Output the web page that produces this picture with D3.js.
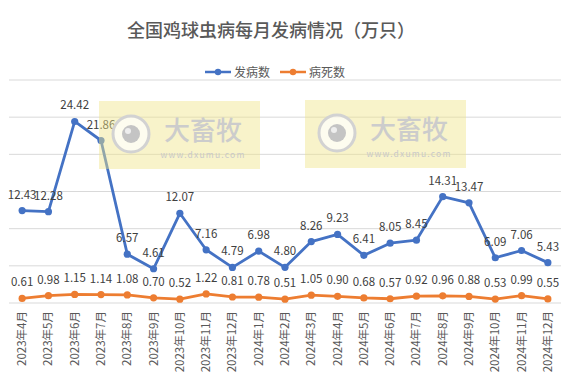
<!DOCTYPE html>
<html><head><meta charset="utf-8">
<script src="https://cdn.jsdelivr.net/npm/d3@7"></script>
<style>
html,body{margin:0;padding:0;background:#fff;}
svg{display:block;font-family:"Noto Sans CJK SC","Noto Sans",sans-serif;}
</style></head>
<body><svg id="c" width="574" height="374"></svg>
<script>
const months = ["2023年4月","2023年5月","2023年6月","2023年7月","2023年8月","2023年9月","2023年10月","2023年11月","2023年12月","2024年1月","2024年2月","2024年3月","2024年4月","2024年5月","2024年6月","2024年7月","2024年8月","2024年9月","2024年10月","2024年11月","2024年12月"];
const incidence = [12.43,12.28,24.42,21.86,6.57,4.61,12.07,7.16,4.79,6.98,4.80,8.26,9.23,6.41,8.05,8.45,14.31,13.47,6.09,7.06,5.43];
const deaths = [0.61,0.98,1.15,1.14,1.08,0.70,0.52,1.22,0.81,0.78,0.51,1.05,0.90,0.68,0.57,0.92,0.96,0.88,0.53,0.99,0.55];
const yTicks = [0,5,10,15,20,25,30];
const seriesNames = ["发病数","病死数"];
const colors = ["#4472c4","#ed7d31"];
const title = "全国鸡球虫病每月发病情况（万只）";

const svg = d3.select("#c");
const x = d3.scaleBand().domain(months).range([9,561]).padding(0);
const cx = m => x(m) + x.bandwidth()/2;
const y = d3.scaleLinear().domain([0,30]).range([303,80]);

// gridlines
svg.append("g").selectAll("line").data(yTicks).join("line")
  .attr("x1",9).attr("x2",561).attr("y1",d=>y(d)).attr("y2",d=>y(d))
  .attr("stroke","#d9d9d9").attr("stroke-width",1);

// title
svg.append("text").attr("x",271).attr("y",37).attr("text-anchor","middle")
  .attr("font-size",18).attr("font-weight",500).attr("fill","#595959").text(title);

// legend
const leg = [{x:205,tx:234},{x:280,tx:309}];
seriesNames.forEach((n,i)=>{
  const g = svg.append("g");
  g.append("line").attr("x1",leg[i].x).attr("x2",leg[i].x+26).attr("y1",72).attr("y2",72)
    .attr("stroke",colors[i]).attr("stroke-width",2.5);
  g.append("circle").attr("cx",leg[i].x+13).attr("cy",72).attr("r",3.2).attr("fill",colors[i]);
  g.append("text").attr("x",leg[i].tx).attr("y",76.5).attr("font-size",12).attr("fill","#595959").text(n);
});

// x labels
svg.append("g").selectAll("text").data(months).join("text")
  .attr("transform",d=>`translate(${cx(d)+4},311) rotate(-90)`)
  .attr("text-anchor","end").attr("font-size",11.5).attr("fill","#595959").text(d=>d);

const series = [incidence, deaths];
const line = d3.line().x((d,i)=>cx(months[i])).y(d=>y(d));
series.forEach((s,k)=>{
  svg.append("path").datum(s).attr("d",line).attr("fill","none")
    .attr("stroke",colors[k]).attr("stroke-width",2.8).attr("stroke-linejoin","round");
  svg.append("g").selectAll("circle").data(s).join("circle")
    .attr("cx",(d,i)=>cx(months[i])).attr("cy",d=>y(d)).attr("r",3.6).attr("fill",colors[k]);
  svg.append("g").selectAll("text").data(s).join("text")
    .attr("x",(d,i)=>cx(months[i])).attr("y",d=>y(d)-12)
    .attr("text-anchor","middle").attr("font-size",11.5).attr("fill","#404040")
    .text(d=>d.toFixed(2));
});

// watermarks
const wms = [{x:99,y:101},{x:305,y:100}];
wms.forEach(w=>{
  const g = svg.append("g");
  g.append("rect").attr("x",w.x).attr("y",w.y).attr("width",161).attr("height",68)
    .attr("fill","#efe48a").attr("opacity",0.45);
  const ccx = w.x+32, ccy = w.y+33;
  g.append("circle").attr("cx",ccx).attr("cy",ccy).attr("r",18).attr("fill","#ffffff").attr("fill-opacity",0.7)
    .attr("stroke","#d2d2d2").attr("stroke-width",3);
  g.append("circle").attr("cx",ccx).attr("cy",ccy).attr("r",9).attr("fill","#c4c4c4");
  g.append("circle").attr("cx",ccx-3).attr("cy",ccy-3).attr("r",3).attr("fill","#eeeeee");
  g.append("text").attr("x",w.x+104).attr("y",w.y+39).attr("text-anchor","middle")
    .attr("font-size",26).attr("font-weight",500).attr("fill","#cccccc").text("大畜牧");
  g.append("text").attr("x",w.x+104).attr("y",w.y+57).attr("text-anchor","middle")
    .attr("font-size",8.5).attr("letter-spacing",1.2).attr("fill","#c9c9c9").text("www.dxumu.com");
});
</script></body></html>
